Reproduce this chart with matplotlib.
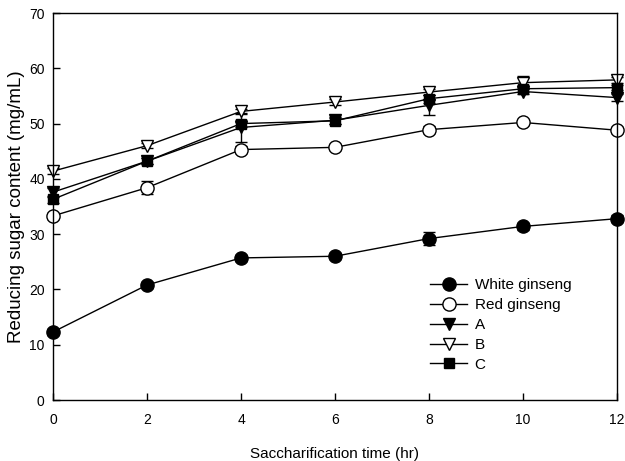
import matplotlib
matplotlib.use("Agg")
import matplotlib.pyplot as plt

plt.rcParams['font.family'] = ['Liberation Sans', 'DejaVu Sans']

time_hr = [0, 2, 4, 6, 8, 10, 12]
white = [12.3, 20.8, 25.7, 26.0, 29.2, 31.4, 32.8]
white_err = [0.5, 0.6, 0.5, 0.5, 1.2, 0.6, 0.6]
red = [33.3, 38.4, 45.3, 45.7, 48.9, 50.2, 48.8]
red_err = [0.5, 1.2, 0.6, 0.5, 0.6, 0.5, 0.5]
a_vals = [37.6, 43.2, 49.3, 50.6, 53.3, 55.8, 54.7]
a_err = [0.8, 0.6, 2.6, 0.6, 1.8, 0.5, 0.6]
b_vals = [41.4, 46.0, 52.2, 53.9, 55.7, 57.4, 57.9]
b_err = [0.5, 0.5, 0.5, 0.5, 0.5, 1.2, 0.5]
c_vals = [36.3, 43.2, 50.0, 50.5, 54.5, 56.3, 56.5]
c_err = [0.6, 0.6, 0.6, 0.5, 0.7, 0.6, 0.5]

fig = plt.figure(figsize=(6.25, 4.61), dpi=100)
ax = fig.add_axes([0.0848, 0.1323, 0.9024, 0.8395])

series = [
    ("White ginseng", white, white_err, 'o', 'black', 9.5),
    ("Red ginseng", red, red_err, 'o', 'white', 9.5),
    ("A", a_vals, a_err, 'v', 'black', 8.5),
    ("B", b_vals, b_err, 'v', 'white', 8.5),
    ("C", c_vals, c_err, 's', 'black', 7.5),
]
for label, vals, err, mk, fc, ms in series:
    ax.errorbar(time_hr, vals, yerr=err, marker=mk, markerfacecolor=fc,
                markeredgecolor='black', markeredgewidth=1.0, markersize=ms,
                color='black', linewidth=1.0, elinewidth=1.0, capsize=4,
                capthick=1.0, label=label, clip_on=False)

ax.set_xlim(0, 12)
ax.set_ylim(0, 70)
ax.set_xticks(time_hr)
ax.set_yticks(range(0, 71, 10))
ax.tick_params(direction='in', length=5, width=1, labelsize=10, top=False, right=False)
ax.tick_params(axis='x', pad=9)
ax.tick_params(axis='y', pad=6)
for s in ax.spines.values():
    s.set_linewidth(1.0)
ax.set_xlabel("Saccharification time (hr)", fontsize=11, labelpad=15)
ax.set_ylabel("Reducing sugar content (mg/mL)", fontsize=13.5, labelpad=3)

handles, labels = ax.get_legend_handles_labels()
handles = [h[0] for h in handles]
ax.legend(handles, labels, loc='upper left', bbox_to_anchor=(0.669, 0.314),
          frameon=False, fontsize=11, handlelength=2.4, labelspacing=0.38,
          handletextpad=0.5, borderaxespad=0, borderpad=0)

fig.savefig("out.png", dpi=100)
